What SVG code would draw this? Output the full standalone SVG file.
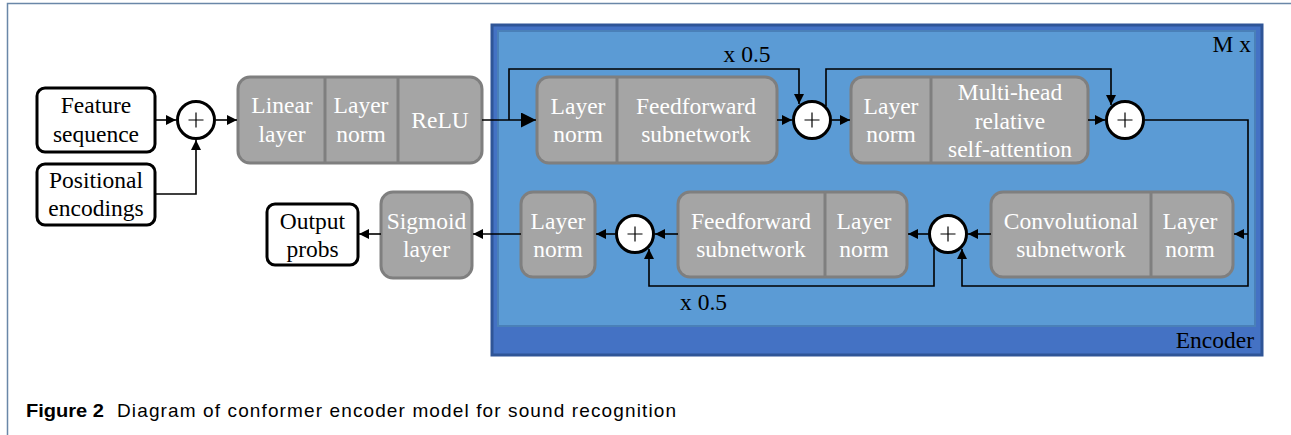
<svg xmlns="http://www.w3.org/2000/svg" width="1291" height="435" viewBox="0 0 1291 435">
<style>
.gbox{fill:#a5a5a5;stroke:#7f7f7f;stroke-width:3}
.div{stroke:#7f7f7f;stroke-width:3}
.wbox{fill:#ffffff;stroke:#000000;stroke-width:3}
.sum{fill:#ffffff;stroke:#000000;stroke-width:3}
.plus{stroke:#000000;stroke-width:1.2}
.wt{font-family:"Liberation Serif","Times New Roman",serif;font-size:23.5px;fill:#ffffff;text-anchor:middle}
.bt{font-family:"Liberation Serif","Times New Roman",serif;font-size:23.5px;fill:#000000;text-anchor:middle}
.lbl{font-family:"Liberation Serif","Times New Roman",serif;font-size:23.5px;fill:#000000}
.conn{fill:none;stroke:#000000;stroke-width:1.6}
.cap{font-family:"Liberation Sans",Arial,sans-serif;font-size:19px;fill:#000000}
</style>
<defs>
<marker id="ah" viewBox="0 0 10 10" refX="10" refY="5" markerWidth="10" markerHeight="10" markerUnits="userSpaceOnUse" orient="auto"><path d="M0,0 L10,5 L0,10 z" fill="#000"/></marker>
<marker id="ahb" viewBox="0 0 10 10" refX="10" refY="5" markerWidth="15" markerHeight="15" markerUnits="userSpaceOnUse" orient="auto"><path d="M0,0 L10,5 L0,10 z" fill="#000"/></marker>
</defs>
<rect x="0" y="0" width="1291" height="435" fill="#ffffff"/>
<g id="frame"><path d="M7.5,435 V3.5 H1291" fill="none" stroke="#6a87a8" stroke-width="1.5"/></g>

<g id="encoder">
<rect x="492" y="25" width="770" height="330" fill="#4472c4" stroke="#2f5597" stroke-width="3"/>
<rect x="498" y="31" width="757" height="295" fill="#5b9bd5" stroke="#4a80b8" stroke-width="2"/>
<text class="lbl" x="1251" y="52" text-anchor="end">M x</text>
<text class="lbl" x="1254" y="348" text-anchor="end">Encoder</text>
</g>

<g id="feature"><rect class="wbox" x="37" y="88" width="118" height="64" rx="8"/>
<text class="bt" x="96" y="113">Feature</text><text class="bt" x="96" y="142">sequence</text></g>
<g id="positional"><rect class="wbox" x="37" y="164" width="118" height="61" rx="8"/>
<text class="bt" x="96" y="188">Positional</text><text class="bt" x="96" y="216">encodings</text></g>
<g id="sum1"><circle class="sum" cx="196" cy="120" r="18.5"/><path class="plus" d="M188.5,120 H203.5 M196,112.5 V127.5"/></g>

<g id="input-block"><rect class="gbox" x="238" y="77" width="244" height="86" rx="12"/>
<line class="div" x1="325" y1="77" x2="325" y2="163"/><line class="div" x1="398" y1="77" x2="398" y2="163"/>
<text class="wt" x="282" y="113">Linear</text><text class="wt" x="282" y="142">layer</text>
<text class="wt" x="361" y="113">Layer</text><text class="wt" x="361" y="142">norm</text>
<text class="wt" x="440" y="128">ReLU</text></g>

<g id="ff1"><rect class="gbox" x="537" y="77" width="240" height="86" rx="12"/>
<line class="div" x1="617" y1="77" x2="617" y2="163"/>
<text class="wt" x="578" y="114">Layer</text><text class="wt" x="578" y="142">norm</text>
<text class="wt" x="696" y="114">Feedforward</text><text class="wt" x="696" y="142">subnetwork</text></g>
<g id="sum2"><circle class="sum" cx="812" cy="120" r="18.5"/><path class="plus" d="M804.5,120 H819.5 M812,112.5 V127.5"/></g>

<g id="mhsa"><rect class="gbox" x="851" y="77" width="237" height="86" rx="12"/>
<line class="div" x1="931" y1="77" x2="931" y2="163"/>
<text class="wt" x="891" y="114">Layer</text><text class="wt" x="891" y="142">norm</text>
<text class="wt" x="1010" y="100">Multi-head</text><text class="wt" x="1010" y="128.5">relative</text><text class="wt" x="1010" y="157">self-attention</text></g>
<g id="sum3"><circle class="sum" cx="1125" cy="120" r="18.5"/><path class="plus" d="M1117.5,120 H1132.5 M1125,112.5 V127.5"/></g>

<g id="conv"><rect class="gbox" x="991" y="192" width="242" height="85" rx="12"/>
<line class="div" x1="1151" y1="192" x2="1151" y2="277"/>
<text class="wt" x="1071" y="229">Convolutional</text><text class="wt" x="1071" y="257">subnetwork</text>
<text class="wt" x="1190" y="229">Layer</text><text class="wt" x="1190" y="257">norm</text></g>
<g id="sum4"><circle class="sum" cx="948" cy="234" r="18.5"/><path class="plus" d="M940.5,234 H955.5 M948,226.5 V241.5"/></g>

<g id="ff2"><rect class="gbox" x="678" y="192" width="229" height="85" rx="12"/>
<line class="div" x1="825" y1="192" x2="825" y2="277"/>
<text class="wt" x="751" y="229">Feedforward</text><text class="wt" x="751" y="257">subnetwork</text>
<text class="wt" x="864" y="229">Layer</text><text class="wt" x="864" y="257">norm</text></g>
<g id="sum5"><circle class="sum" cx="635" cy="234" r="18.5"/><path class="plus" d="M627.5,234 H642.5 M635,226.5 V241.5"/></g>

<g id="ln-out"><rect class="gbox" x="521" y="192" width="74" height="85" rx="12"/>
<text class="wt" x="558" y="229">Layer</text><text class="wt" x="558" y="257">norm</text></g>
<g id="sigmoid"><rect class="gbox" x="381" y="192" width="91" height="86" rx="12"/>
<text class="wt" x="426.5" y="229">Sigmoid</text><text class="wt" x="426.5" y="257">layer</text></g>
<g id="output"><rect class="wbox" x="267" y="204" width="91" height="61" rx="8"/>
<text class="bt" x="312.5" y="229">Output</text><text class="bt" x="312.5" y="257">probs</text></g>

<g id="connectors">
<path class="conn" d="M155,120 H176" marker-end="url(#ah)"/>
<path class="conn" d="M155,194 H196 V140" marker-end="url(#ah)"/>
<path class="conn" d="M216,120 H237" marker-end="url(#ah)"/>
<path class="conn" d="M482,120 H536" marker-end="url(#ahb)"/>
<path class="conn" d="M509,120 V69 H799 V104" marker-end="url(#ah)"/>
<path class="conn" d="M777,120 H792" marker-end="url(#ah)"/>
<path class="conn" d="M832,120 H850" marker-end="url(#ah)"/>
<path class="conn" d="M826,106 V69 H1111 V105" marker-end="url(#ah)"/>
<path class="conn" d="M1088,120 H1105" marker-end="url(#ah)"/>
<path class="conn" d="M1145,120 H1248 V286 H962 V249" marker-end="url(#ah)"/>
<path class="conn" d="M1248,234 H1234" marker-end="url(#ah)"/>
<path class="conn" d="M991,234 H968" marker-end="url(#ah)"/>
<path class="conn" d="M928,234 H908" marker-end="url(#ah)"/>
<path class="conn" d="M934,248 V286 H649 V249" marker-end="url(#ah)"/>
<path class="conn" d="M678,234 H655" marker-end="url(#ah)"/>
<path class="conn" d="M615,234 H596" marker-end="url(#ah)"/>
<path class="conn" d="M521,234 H473" marker-end="url(#ah)"/>
<path class="conn" d="M381,234 H359" marker-end="url(#ah)"/>
<text class="lbl" x="747" y="62" text-anchor="middle">x 0.5</text>
<text class="lbl" x="703.5" y="310" text-anchor="middle">x 0.5</text>
</g>

<g id="caption">
<text class="cap" x="26" y="417" font-weight="bold" textLength="78" lengthAdjust="spacingAndGlyphs">Figure 2</text>
<text class="cap" x="117" y="417" textLength="559" lengthAdjust="spacing">Diagram of conformer encoder model for sound recognition</text>
</g>
</svg>
